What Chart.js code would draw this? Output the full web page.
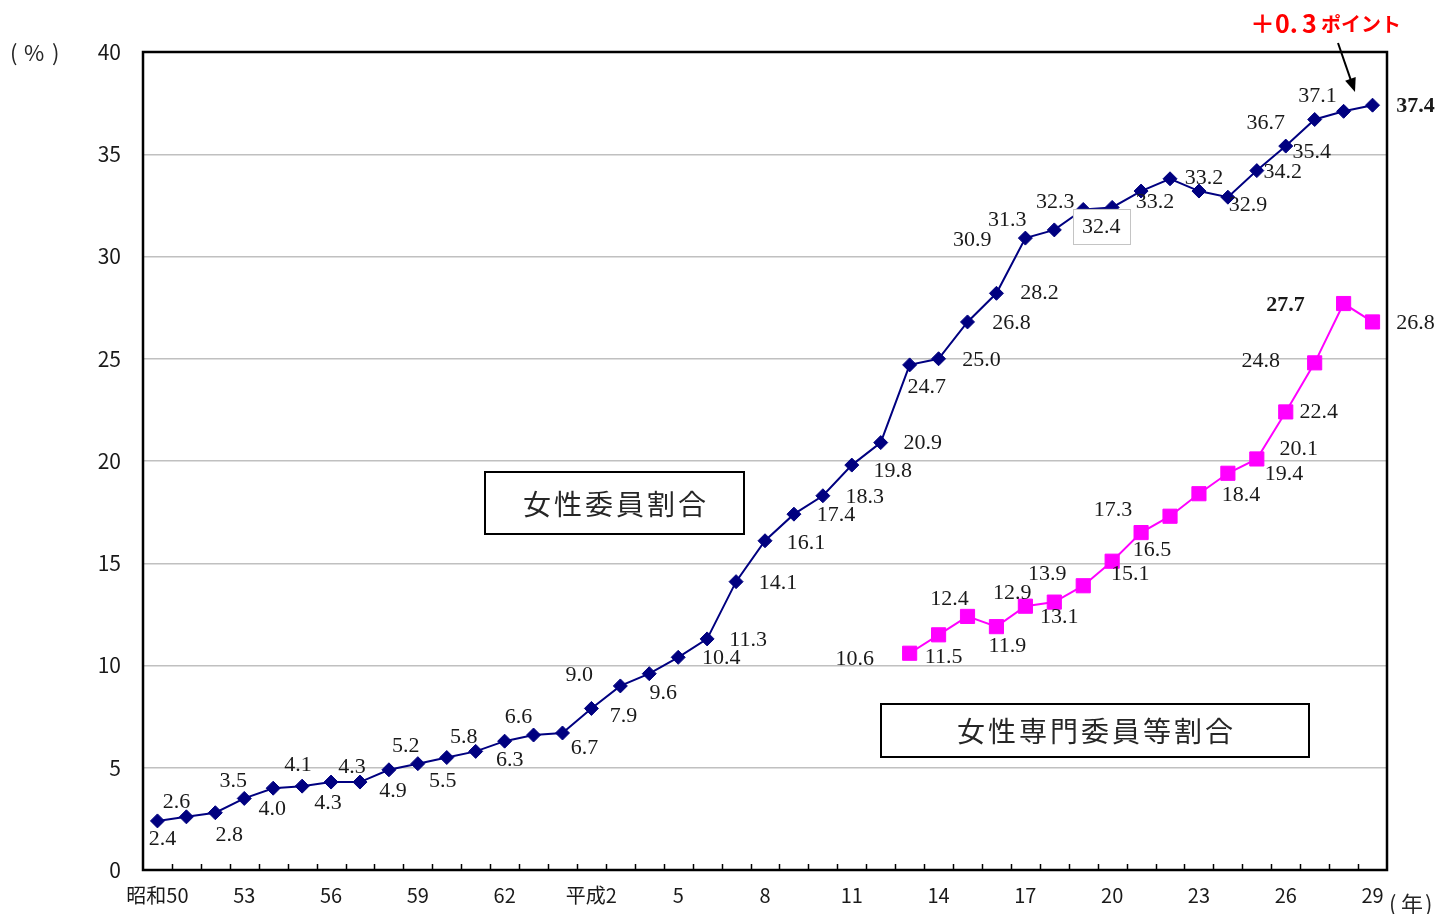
<!DOCTYPE html>
<html lang="ja">
<head>
<meta charset="utf-8">
<title>女性委員割合・女性専門委員等割合の推移</title>
<script src="https://cdn.jsdelivr.net/npm/chart.js@4.4.1/dist/chart.umd.min.js"></script>
<style>
  html, body { margin: 0; padding: 0; background: #fff; }
  #box { position: relative; width: 1456px; height: 914px; }
</style>
</head>
<body>
<div id="box"><canvas id="chart" width="1456" height="914"></canvas></div>
<script>
// 年次（昭和50年〜平成29年）
const categories = [
  '昭和50','昭和51','昭和52','昭和53','昭和54','昭和55','昭和56','昭和57','昭和58','昭和59',
  '昭和60','昭和61','昭和62','昭和63','平成元','平成2','平成3','平成4','平成5','平成6',
  '平成7','平成8','平成9','平成10','平成11','平成12','平成13','平成14','平成15','平成16',
  '平成17','平成18','平成19','平成20','平成21','平成22','平成23','平成24','平成25','平成26',
  '平成27','平成28','平成29'
];

// 横軸に表示する目盛ラベル（3年ごと）
const tickLabels = ['昭和50','53','56','59','62','平成2','5','8','11','14','17','20','23','26','29'];

// 女性委員割合（%）
const womenMembers = [
  2.4, 2.6, 2.8, 3.5, 4.0, 4.1, 4.3, 4.3, 4.9, 5.2,
  5.5, 5.8, 6.3, 6.6, 6.7, 7.9, 9.0, 9.6, 10.4, 11.3,
  14.1, 16.1, 17.4, 18.3, 19.8, 20.9, 24.7, 25.0, 26.8, 28.2,
  30.9, 31.3, 32.3, 32.4, 33.2, 33.8, 33.2, 32.9, 34.2, 35.4,
  36.7, 37.1, 37.4
];

// 女性専門委員等割合（%）平成13年から
const specialistStart = '平成13';
const specialistMembers = [
  10.6, 11.5, 12.4, 11.9, 12.9, 13.1, 13.9, 15.1, 16.5, 17.3,
  18.4, 19.4, 20.1, 22.4, 24.8, 27.7, 26.8
];

// 数値ラベルの位置（マーカーからのずれ, px）
const memberLabelOffsets = [
  [5,17],[-10,-16],[14,21],[-11,-18],[-1,20],[-4,-22],[-3,20],[-8,-16],[4,20],[-12,-18],
  [-4,23],[-12,-15],[5,18],[-15,-19],[22,14],[32,7],[-41,-12],[14,19],[43,0],[41,0],
  [42,1],[41,1],[42,0],[42,0],[41,5],[42,0],[17,21],[43,0],[44,0],[43,-1],
  [-53,1],[-47,-11],[-28,-8],[-11,19],[14,10],null,[5,-14],[20,7],[26,1],[26,5],
  [-49,3],[-26,-16],[43,0]
];
const specialistLabelOffsets = [
  [-55,5],[5,21],[-18,-18],[11,19],[-13,-14],[5,14],[-36,-13],[18,12],[11,17],[-57,-7],
  [42,0],[56,0],[42,-11],[33,-1],[-54,-3],[-58,1],[43,0]
];

const NAVY = '#000080';
const MAGENTA = '#ff00ff';
const SERIF = '"Liberation Serif", "DejaVu Serif", serif';
const GOTHIC = '"Noto Sans CJK JP", "Noto Sans", sans-serif';

const startIdx = categories.indexOf(specialistStart);
const specialistSeries = categories.map((_, i) =>
  i >= startIdx ? (specialistMembers[i - startIdx] ?? null) : null);
const specialistOffsetsFull = categories.map((_, i) =>
  i >= startIdx ? (specialistLabelOffsets[i - startIdx] ?? null) : null);

const labelSettings = [
  { offsets: memberLabelOffsets, bold: ['平成29'], boxed: ['平成20'] },
  { offsets: specialistOffsetsFull, bold: ['平成28'], boxed: [] }
];

// 各点の数値ラベル
const pointLabels = {
  id: 'pointLabels',
  afterDatasetsDraw(chart) {
    const ctx = chart.ctx;
    chart.data.datasets.forEach((ds, di) => {
      const meta = chart.getDatasetMeta(di);
      const cfg = labelSettings[di];
      ds.data.forEach((v, i) => {
        if (v == null) return;
        const off = cfg.offsets[i];
        if (!off) return;
        const pt = meta.data[i];
        const x = pt.x + off[0];
        const y = pt.y + off[1];
        const text = v.toFixed(1);
        const bold = cfg.bold.includes(categories[i]);
        ctx.save();
        ctx.font = (bold ? 'bold 22px ' : '22px ') + SERIF;
        ctx.textAlign = 'center';
        ctx.textBaseline = 'middle';
        if (cfg.boxed.includes(categories[i])) {
          const w = ctx.measureText(text).width + 18;
          const h = 35;
          ctx.fillStyle = '#fff';
          ctx.fillRect(x - w / 2, y - h / 2, w, h);
          ctx.strokeStyle = '#c4c4c4';
          ctx.lineWidth = 1;
          ctx.strokeRect(Math.round(x - w / 2) + 0.5, Math.round(y - h / 2) + 0.5, Math.round(w), h);
        }
        ctx.fillStyle = '#1a1a1a';
        ctx.fillText(text, x, y + 1);
        ctx.restore();
      });
    });
  }
};

// 枠線と横軸の内向き目盛
const frame = {
  id: 'frame',
  beforeDatasetsDraw(chart) {
    const { ctx, chartArea: a } = chart;
    const xs = chart.scales.x;
    ctx.save();
    ctx.strokeStyle = '#000';
    ctx.lineWidth = 1.5;
    for (let i = 1; i < categories.length; i++) {
      const x = Math.round((xs.getPixelForValue(i - 1) + xs.getPixelForValue(i)) / 2) + 0.5;
      ctx.beginPath();
      ctx.moveTo(x, a.bottom);
      ctx.lineTo(x, a.bottom - 6);
      ctx.stroke();
    }
    ctx.lineWidth = 2.5;
    ctx.strokeRect(a.left, a.top, a.right - a.left, a.bottom - a.top);
    ctx.restore();
  }
};

// 凡例枠・単位・注記
const notes = {
  id: 'notes',
  afterDraw(chart) {
    const { ctx, chartArea: a } = chart;
    ctx.save();

    const boxes = [
      { text: '女性委員割合', left: 342, top: 420, w: 259, h: 62 },
      { text: '女性専門委員等割合', left: 738, top: 652, w: 428, h: 53 }
    ];
    boxes.forEach(b => {
      const x = a.left + b.left, y = a.top + b.top;
      ctx.fillStyle = '#fff';
      ctx.fillRect(x, y, b.w, b.h);
      ctx.strokeStyle = '#000';
      ctx.lineWidth = 2;
      ctx.strokeRect(x, y, b.w, b.h);
      ctx.fillStyle = '#262626';
      ctx.font = '28px ' + GOTHIC;
      ctx.letterSpacing = '3px';
      ctx.textAlign = 'center';
      ctx.textBaseline = 'middle';
      ctx.fillText(b.text, x + b.w / 2 + 1.5, y + b.h / 2 + 1);
      ctx.letterSpacing = '0px';
    });

    // 単位
    ctx.fillStyle = '#262626';
    ctx.textBaseline = 'middle';
    ctx.textAlign = 'left';
    ctx.font = '22px ' + GOTHIC;
    ctx.fillText('(', 10, a.top + 1);
    ctx.fillText('%', 24, a.top + 1);
    ctx.fillText(')', 52, a.top + 1);
    ctx.fillText('(', a.right + 2, a.bottom + 34);
    ctx.fillText('年', a.right + 14, a.bottom + 34);
    ctx.fillText(')', a.right + 38, a.bottom + 34);

    // ＋0.3ポイント
    ctx.fillStyle = '#ff0000';
    ctx.textBaseline = 'alphabetic';
    ctx.font = 'bold 25px ' + GOTHIC;
    ctx.fillText('＋0.', 1250, 33);
    ctx.fillText('3', 1302, 33);
    ctx.font = 'bold 20px ' + GOTHIC;
    ctx.fillText('ポイント', 1321, 32);

    // 矢印
    const x0 = 1338, y0 = 43, x1 = 1355, y1 = 92;
    const ang = Math.atan2(y1 - y0, x1 - x0);
    ctx.strokeStyle = '#000';
    ctx.fillStyle = '#000';
    ctx.lineWidth = 2;
    ctx.beginPath();
    ctx.moveTo(x0, y0);
    ctx.lineTo(x1 - 10 * Math.cos(ang), y1 - 10 * Math.sin(ang));
    ctx.stroke();
    ctx.beginPath();
    ctx.moveTo(x1, y1);
    ctx.lineTo(x1 - 15 * Math.cos(ang - 0.38), y1 - 15 * Math.sin(ang - 0.38));
    ctx.lineTo(x1 - 15 * Math.cos(ang + 0.38), y1 - 15 * Math.sin(ang + 0.38));
    ctx.closePath();
    ctx.fill();

    ctx.restore();
  }
};

function draw() {
  new Chart(document.getElementById('chart'), {
    type: 'line',
    data: {
      labels: categories,
      datasets: [
        {
          label: '女性委員割合',
          data: womenMembers,
          borderColor: NAVY,
          backgroundColor: NAVY,
          borderWidth: 2,
          pointStyle: 'rectRot',
          pointRadius: 7,
          pointBorderWidth: 1,
          pointBorderColor: NAVY,
          pointBackgroundColor: NAVY,
          tension: 0
        },
        {
          label: '女性専門委員等割合',
          data: specialistSeries,
          borderColor: MAGENTA,
          backgroundColor: MAGENTA,
          borderWidth: 2,
          pointStyle: 'rect',
          pointRadius: 10,
          pointBorderWidth: 1,
          pointBorderColor: MAGENTA,
          pointBackgroundColor: MAGENTA,
          spanGaps: false,
          tension: 0
        }
      ]
    },
    options: {
      responsive: false,
      animation: false,
      events: [],
      layout: { padding: { left: 0, right: 69, top: 52, bottom: 0 } },
      plugins: { legend: { display: false }, tooltip: { enabled: false } },
      scales: {
        x: {
          type: 'category',
          offset: true,
          grid: { display: false, drawTicks: false },
          border: { display: false },
          ticks: {
            autoSkip: false,
            maxRotation: 0,
            minRotation: 0,
            padding: 13,
            color: '#1a1a1a',
            font: { family: GOTHIC, size: 20 },
            callback: (v, i) => (i % 3 === 0 ? tickLabels[i / 3] : '')
          },
          afterFit(s) { s.height = 44; }
        },
        y: {
          min: 0,
          max: 40,
          grid: { color: '#c0c0c0', lineWidth: 1.5, drawTicks: false },
          border: { display: false },
          ticks: {
            stepSize: 5,
            padding: 22,
            color: '#1a1a1a',
            font: { family: GOTHIC, size: 21 }
          },
          afterFit(s) { s.width = 143; }
        }
      }
    },
    plugins: [frame, pointLabels, notes]
  });
}

Promise.all([
  document.fonts.load('22px "Liberation Serif"'),
  document.fonts.load('bold 22px "Liberation Serif"'),
  document.fonts.load('20px "Noto Sans CJK JP"', '昭和平成年女性'),
  document.fonts.load('bold 20px "Noto Sans CJK JP"', 'ポイント')
]).catch(() => {}).then(draw);
</script>
</body>
</html>
